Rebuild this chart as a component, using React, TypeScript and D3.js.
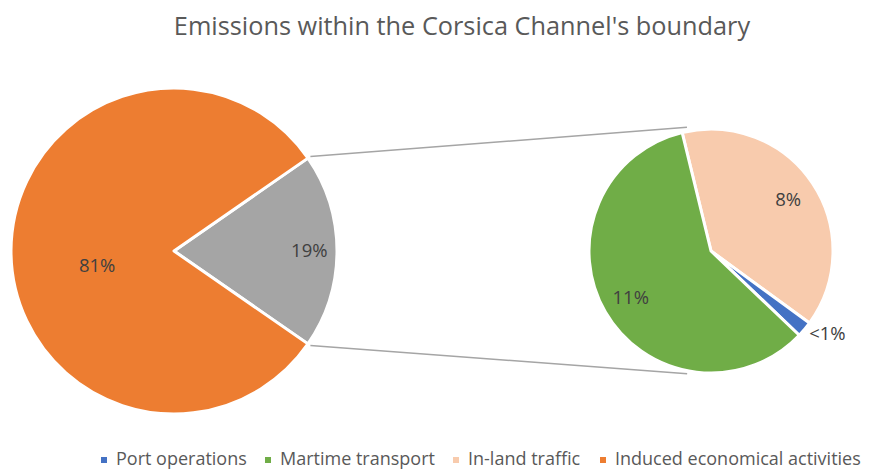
import * as d3 from "d3";

// legend order (as in the source chart)
const categories = ["Port operations", "Martime transport", "In-land traffic", "Induced economical activities"];
const shares = [0.4, 11.4, 7.5, 80.7];
const colors = ["#4472C4", "#70AD47", "#F8CBAD", "#ED7D31"];
// which categories are split out into the small pie, in drawing order (clockwise)
const secondaryOrder = [2, 0, 1];
const mainIndex = 3;

const title = "Emissions within the Corsica Channel's boundary";

const W = 869;
const H = 469;
const FONT = "'Open Sans', Lato, sans-serif";

const fmt = (v: number) => (v < 1 ? "<1%" : d3.format(".0%")(v / 100));

export default function App() {
  const main = { cx: 174, cy: 251, r: 163 };
  const sec = { cx: 711, cy: 251, r: 122 };

  const otherTotal = d3.sum(secondaryOrder, (i) => shares[i]);
  const mainData = [
    { key: "other", value: otherTotal, color: "#A5A5A5" },
    { key: categories[mainIndex], value: shares[mainIndex], color: colors[mainIndex] },
  ];
  const otherSpan = (otherTotal / d3.sum(mainData, (d) => d.value)) * Math.PI * 2;

  const mainPie = d3
    .pie<any>()
    .sort(null)
    .value((d) => d.value)
    .startAngle(Math.PI / 2 - otherSpan / 2)
    .endAngle(Math.PI / 2 - otherSpan / 2 + Math.PI * 2)(mainData);

  const secStart = (-13.7 * Math.PI) / 180;
  const secData = secondaryOrder.map((i) => ({ key: categories[i], value: shares[i], color: colors[i] }));
  const secPie = d3
    .pie<any>()
    .sort(null)
    .value((d) => d.value)
    .startAngle(secStart)
    .endAngle(secStart + Math.PI * 2)(secData);

  const mainArc = d3.arc<any>().innerRadius(0).outerRadius(main.r);
  const secArc = d3.arc<any>().innerRadius(0).outerRadius(sec.r);

  const polar = (c: { cx: number; cy: number }, a: number, r: number) => [
    c.cx + r * Math.sin(a),
    c.cy - r * Math.cos(a),
  ];

  const other = mainPie[0];
  const connA = polar(main, other.startAngle, main.r + 3);
  const connB = polar(main, other.endAngle, main.r + 3);
  const tip = (11 * Math.PI) / 180;
  const secTop = polar(sec, -tip, sec.r + 4);
  const secBot = polar(sec, Math.PI + tip, sec.r + 3);

  const legendX = [101, 265, 453, 600];

  return (
    <svg width={W} height={H} style={{ position: "absolute", left: 0, top: 0, background: "#fff" }}>
      <text x={462} y={35} textAnchor="middle" fontFamily={FONT} fontSize={25.3} fill="#595959">
        {title}
      </text>

      <line x1={connA[0]} y1={connA[1]} x2={secTop[0]} y2={secTop[1]} stroke="#A5A5A5" strokeWidth={1.5} />
      <line x1={connB[0]} y1={connB[1]} x2={secBot[0]} y2={secBot[1]} stroke="#A5A5A5" strokeWidth={1.5} />

      <g transform={`translate(${main.cx},${main.cy})`}>
        {mainPie.map((d, i) => (
          <path key={i} d={mainArc(d) || ""} fill={d.data.color} stroke="#fff" strokeWidth={3} strokeLinejoin="round" />
        ))}
        {mainPie.map((d, i) => {
          const mid = (d.startAngle + d.endAngle) / 2;
          const isOther = d.data.key === "other";
          const rr = isOther ? main.r * 0.83 : main.r * 0.48;
          const a = isOther ? mid : mid - 0.19;
          return (
            <text
              key={"l" + i}
              x={rr * Math.sin(a)}
              y={-rr * Math.cos(a)}
              dy="0.35em"
              textAnchor="middle"
              fontFamily={FONT}
              fontSize={18.5}
              fill="#404040"
            >
              {fmt(d.value)}
            </text>
          );
        })}
      </g>

      <g transform={`translate(${sec.cx},${sec.cy})`}>
        {secPie.map((d, i) => (
          <path key={i} d={secArc(d) || ""} fill={d.data.color} stroke="#fff" strokeWidth={3} strokeLinejoin="round" />
        ))}
        {secPie.map((d, i) => {
          const mid = (d.startAngle + d.endAngle) / 2;
          const outside = d.value < 1;
          const rr = outside ? sec.r + 6 : sec.r * 0.76;
          return (
            <text
              key={"l" + i}
              x={rr * Math.sin(mid)}
              y={-rr * Math.cos(mid)}
              dy="0.35em"
              textAnchor={outside ? "start" : "middle"}
              fontFamily={FONT}
              fontSize={18.5}
              fill="#404040"
            >
              {fmt(d.value)}
            </text>
          );
        })}
      </g>

      <g>
        {categories.map((c, i) => (
          <g key={c} transform={`translate(${legendX[i]},0)`}>
            <rect x={0} y={457} width={6} height={6} fill={colors[i]} />
            <text x={15} y={465} fontFamily={FONT} fontSize={18} fill="#595959">
              {c}
            </text>
          </g>
        ))}
      </g>
    </svg>
  );
}
